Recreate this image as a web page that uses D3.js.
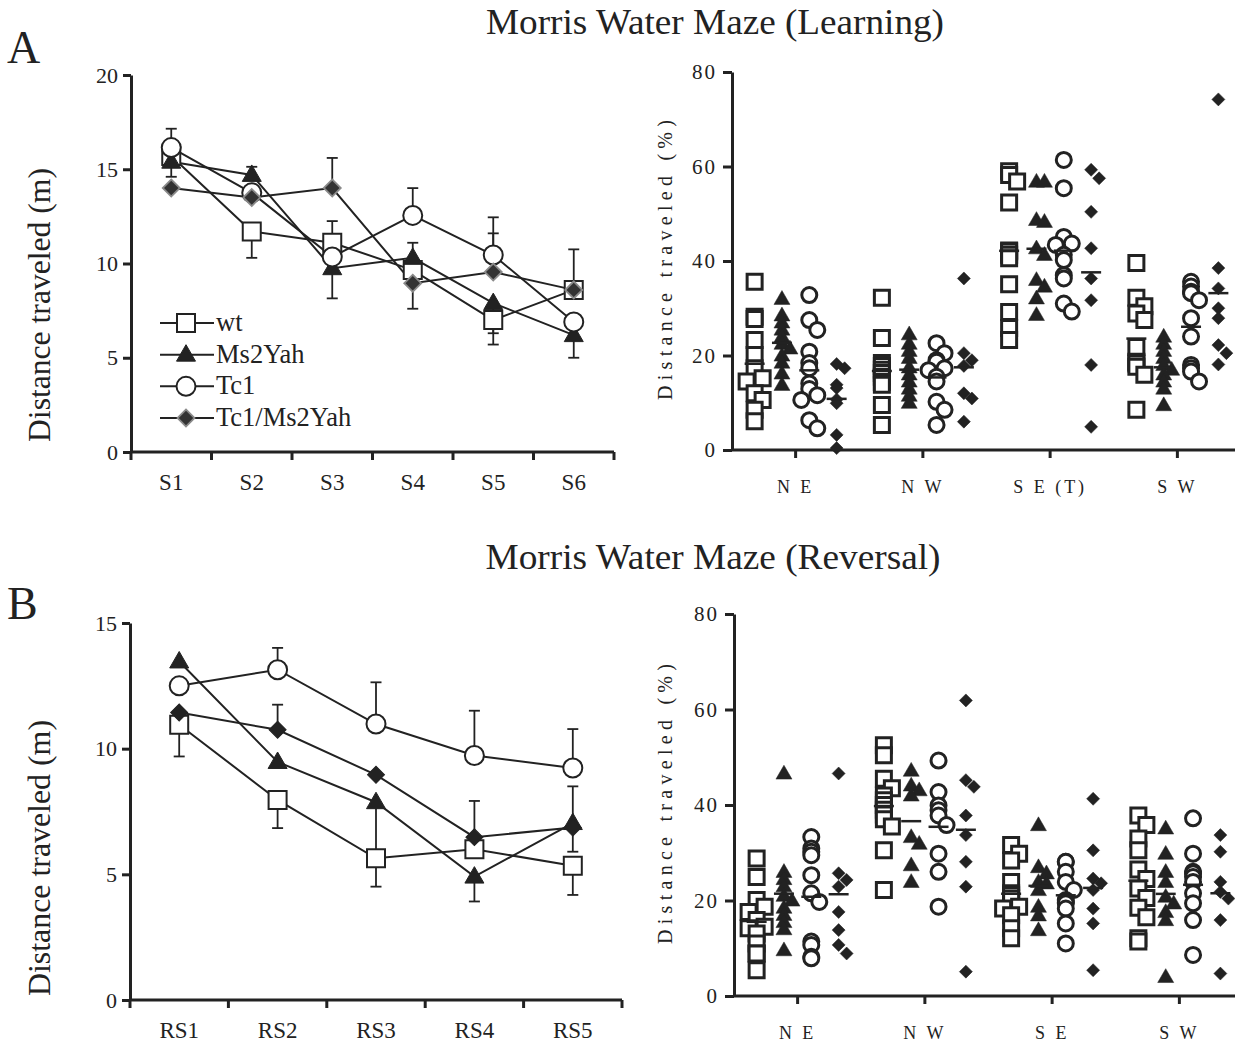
<!DOCTYPE html>
<html><head><meta charset="utf-8">
<script src="https://cdn.jsdelivr.net/npm/d3@7"></script>
<style>
body{margin:0;background:#fff}
text{font-family:"Liberation Serif","Times New Roman",serif;fill:#222}
</style>
</head><body>
<svg id="c" width="1235" height="1044"></svg>
<script>
// ---------------- DATA ----------------
const seriesNames = ["wt","Ms2Yah","Tc1","Tc1/Ms2Yah"];

// Learning (panel A, left)
const sessionsA = ["S1","S2","S3","S4","S5","S6"];
const learnWt  = [15.7, 11.7, 11.1, 9.65, 7.0, 8.6];
const learnMs2 = [15.4, 14.7, 9.75, 10.3, 7.9, 6.2];
const learnTc1 = [16.15, 13.75, 10.35, 12.55, 10.45, 6.9];
const learnDbl = [14.0, 13.5, 14.0, 8.95, 9.55, 8.6];
// signed SEM: + drawn upward, - drawn downward, null = not shown
const learnWtErr  = [null, -1.4, 1.15, null, -1.3, 2.15];
const learnMs2Err = [-0.8, 0.43, -1.6, 0.8, -1.6, -1.2];
const learnTc1Err = [1.0, null, null, 1.45, 2.0, null];
const learnDblErr = [null, null, 1.6, -1.35, 2.05, null];
const ticksA = [0,5,10,15,20];

// Reversal (panel B, left)
const sessionsB = ["RS1","RS2","RS3","RS4","RS5"];
const revWt  = [10.95, 7.96, 5.64, 6.0, 5.34];
const revMs2 = [13.47, 9.47, 7.87, 4.91, 7.04];
const revTc1 = [12.5, 13.14, 10.98, 9.73, 9.23];
const revDbl = [11.44, 10.75, 8.96, 6.48, 6.86];
const revWtErr  = [-1.26, -1.12, -1.13, null, -1.16];
const revMs2Err = [null, null, -2.2, -0.99, -1.14];
const revTc1Err = [null, 0.87, 1.66, 1.78, 1.55];
const revDblErr = [null, 1.0, null, 1.44, 1.64];
const ticksB = [0,5,10,15];

// Quadrant distance (%), panels right
const quadA = ["N E","N W","S E (T)","S W"];
const quadB = ["N E","N W","S E","S W"];
const ticksPct = [0,20,40,60,80];

const learnPctWt = [
  [35.6,28.2,27.7,23.3,20.1,17.3,15.2,14.5,12.0,10.6,8.5,6.1],
  [32.2,23.7,18.4,17.8,17.0,16.3,15.5,14.4,13.8,9.5,5.3],
  [59,58.2,56.8,52.4,42.2,42.0,41.3,40.6,35.1,29.2,25.8,23.3],
  [39.6,32.2,30.4,28.9,27.5,21.8,18.7,18.3,17.6,15.9,8.5]];
const learnPctMs2 = [
  [32,28.5,27,25.5,24,22.5,21.5,20,18.5,16.2,13.8],
  [24.5,22.5,21,19.5,17.5,16,14.5,13,11.5,10],
  [56.8,56.8,48.7,48.3,42.7,41.3,36.0,34.6,32.1,28.6],
  [24,22.5,21,19.5,18,17,16,14.5,13,9.5]];
const learnPctTc1 = [
  [32.8,27.5,25.4,20.8,18.4,17.3,14.1,12.9,11.6,10.6,6.3,4.6],
  [22.6,20.5,19,18.7,17.3,16.9,15.5,14.5,10.2,8.5,5.3],
  [61.4,55.4,45.1,43.7,43.4,41.3,40.2,37.0,36.3,31.0,29.3],
  [35.6,34.6,33.5,33.2,31.7,27.9,24.0,18.0,17.3,16.6,14.5]];
const learnPctDbl = [
  [18.2,17.3,13.8,13.1,10.7,9.9,3.2,0.4],
  [36.3,20.5,19.0,17.8,12.0,10.9,6.0],
  [59.3,57.5,50.4,42.7,36.3,31.7,18.0,4.9],
  [74.2,38.5,34.2,30.0,27.9,22.2,20.5,18.1]];

const revPctWt = [
  [28.8,24.9,20.1,18.7,17.6,15.9,14.5,14.2,13.1,11.0,8.9,8.9,5.4],
  [52.5,50.4,45.5,43.5,42,41,40,39,38,37,35.5,30.5,22.2],
  [31.6,29.8,28.4,23.9,21.5,21.1,20.4,18.7,18.3,16.9,14.2,12.1],
  [37.8,35.8,33.0,30.5,26.5,24.5,22.5,20.5,18.5,16.5,12.1,11.4]];
const revPctMs2 = [
  [46.6,26,24.5,23,21,20,18.5,17,15.5,14,9.6],
  [47.2,44.1,43.1,42,33.3,31.9,27.4,23.9],
  [35.8,27.0,25.7,23.9,23.6,22.2,18.7,16.9,13.8],
  [35.1,29.8,26.0,23.9,20.8,19.4,17.6,15.9,4.0]];
const revPctTc1 = [
  [33.3,30.9,30.2,29.5,25.3,21.5,19.7,11.4,10.7,8.2,7.9],
  [49.3,42.7,39.9,38.9,37.8,35.8,29.8,26.0,18.7],
  [28.1,28.1,26.0,23.9,22.2,20.1,19.7,19.4,18.3,15.2,11.0],
  [37.2,29.8,26.0,25.7,24.9,23.9,21.5,19.4,15.9,8.6]];
const revPctDbl = [
  [46.6,25.7,24.3,22.9,17.6,13.8,10.7,8.9],
  [61.9,45.2,43.8,37.8,33.7,28.1,22.9,5.1],
  [41.3,30.5,24.6,23.6,22.2,18.3,15.2,5.4],
  [33.7,30.2,23.9,21.8,20.4,15.9,4.7]];

// ---------------- DRAWING ----------------
const svg = d3.select("#c");
const INK = "#222";

function symPath(kind, s) {
  if (kind === "square") return d3.symbol(d3.symbolSquare, s*s)();
  if (kind === "circle") return d3.symbol(d3.symbolCircle, Math.PI*s*s/4)();
  if (kind === "triangle") return d3.symbol(d3.symbolTriangle, Math.sqrt(3)/4*s*s)();
  if (kind === "diamond") return d3.symbol(d3.symbolSquare, s*s/2)();
}
function drawMarker(g, kind, x, y, style) {
  const p = g.append("path").attr("d", symPath(kind, style.size))
    .attr("fill", style.fill).attr("stroke", style.stroke).attr("stroke-width", style.sw);
  if (kind === "diamond") p.attr("transform", `translate(${x},${y}) rotate(45)`);
  else if (kind === "triangle") p.attr("transform", `translate(${x},${y+1})`);
  else p.attr("transform", `translate(${x},${y})`);
  return p;
}

function styleAxis(a, fs) {
  a.selectAll("path.domain").attr("stroke", INK).attr("stroke-width", 3);
  a.selectAll(".tick line").attr("stroke", INK).attr("stroke-width", 3);
  a.selectAll(".tick text").attr("fill", INK).style("font-family", '"Liberation Serif",serif').style("font-size", fs+"px");
}

// titles
svg.append("text").attr("x", 715).attr("y", 34).attr("text-anchor","middle").style("font-size","35px")
  .attr("textLength", 458).attr("lengthAdjust", "spacingAndGlyphs").text("Morris Water Maze (Learning)");
svg.append("text").attr("x", 713).attr("y", 569).attr("text-anchor","middle").style("font-size","35px")
  .attr("textLength", 455).attr("lengthAdjust", "spacingAndGlyphs").text("Morris Water Maze (Reversal)");
svg.append("text").attr("x", 7).attr("y", 63).style("font-size","46px").text("A");
svg.append("text").attr("x", 7).attr("y", 619).style("font-size","46px").text("B");

function lineChart(cfg) {
  const g = svg.append("g");
  const x = d3.scaleBand().domain(cfg.sessions).range([cfg.x0, cfg.x1]);
  const y = d3.scaleLinear().domain([0, cfg.ymax]).range([cfg.y0, cfg.y1]);
  const cx = d => x(d) + x.bandwidth()/2;

  const ya = g.append("g").attr("transform", `translate(${cfg.x0},0)`)
    .call(d3.axisLeft(y).tickValues(cfg.ticks).tickSize(8).tickSizeOuter(0).tickPadding(5));
  styleAxis(ya, 22);
  const xa = g.append("g").attr("transform", `translate(0,${cfg.y0})`)
    .call(d3.axisBottom(x).tickSize(0).tickSizeOuter(0).tickPadding(22));
  styleAxis(xa, 23);
  xa.select("path.domain").attr("d", `M${cfg.x0},0H${cfg.x1}`);
  // boundary ticks
  const bounds = cfg.sessions.map(d => x(d)).concat([cfg.x1]);
  g.selectAll(".bt").data(bounds).join("line")
    .attr("x1", d => d).attr("x2", d => d).attr("y1", cfg.y0).attr("y2", cfg.y0 + 8)
    .attr("stroke", INK).attr("stroke-width", 3);

  g.append("text").attr("transform", `translate(${cfg.titleX},${cfg.titleY}) rotate(-90)`)
    .attr("text-anchor","middle").style("font-size","31px")
    .attr("textLength", cfg.titleLen).attr("lengthAdjust", "spacingAndGlyphs")
    .text("Distance traveled (m)");

  const line = d3.line().x((d,i) => cx(cfg.sessions[i])).y(d => y(d));
  cfg.series.forEach(s => {
    g.append("path").attr("d", line(s.values)).attr("fill","none").attr("stroke", INK).attr("stroke-width", 2);
  });
  cfg.series.forEach(s => {
    s.err.forEach((e, i) => {
      if (e == null) return;
      const xc = cx(cfg.sessions[i]);
      const ya0 = y(s.values[i]), ya1 = y(s.values[i] + e);
      g.append("line").attr("x1", xc).attr("x2", xc).attr("y1", ya0).attr("y2", ya1).attr("stroke", INK).attr("stroke-width", 1.8);
      g.append("line").attr("x1", xc-5.5).attr("x2", xc+5.5).attr("y1", ya1).attr("y2", ya1).attr("stroke", INK).attr("stroke-width", 1.8);
    });
  });
  cfg.series.forEach(s => {
    s.values.forEach((v, i) => drawMarker(g, s.kind, cx(cfg.sessions[i]), y(v), s.style));
  });
  return {g, x, y};
}

const lineStyles = {
  square:   {size: 18, fill: "#fff", stroke: INK, sw: 2},
  triangle: {size: 19, fill: INK, stroke: INK, sw: 1},
  circle:   {size: 19, fill: "#fff", stroke: INK, sw: 2},
  diamondA: {size: 17, fill: "#333", stroke: "#8a8a8a", sw: 1.8},
  diamondB: {size: 17, fill: INK, stroke: INK, sw: 1}
};

const A = lineChart({
  sessions: sessionsA, x0: 131, x1: 614, y0: 452, y1: 75, ymax: 20, ticks: ticksA,
  titleX: 50, titleY: 305, titleLen: 274,
  series: [
    {values: learnWt, err: learnWtErr, kind: "square", style: lineStyles.square},
    {values: learnMs2, err: learnMs2Err, kind: "triangle", style: lineStyles.triangle},
    {values: learnTc1, err: learnTc1Err, kind: "circle", style: lineStyles.circle},
    {values: learnDbl, err: learnDblErr, kind: "diamond", style: lineStyles.diamondA}
  ]
});

// legend
const legKinds = [["square", lineStyles.square],["triangle", lineStyles.triangle],["circle", lineStyles.circle],["diamond", lineStyles.diamondA]];
const legY = d3.scalePoint().domain(seriesNames).range([323, 418]);
seriesNames.forEach((n, i) => {
  const yy = legY(n);
  A.g.append("line").attr("x1", 160).attr("x2", 214).attr("y1", yy).attr("y2", yy).attr("stroke", INK).attr("stroke-width", 2);
  drawMarker(A.g, legKinds[i][0], 186, yy, legKinds[i][1]);
  A.g.append("text").attr("x", 216).attr("y", yy + 8).style("font-size","26.5px").text(n);
});

lineChart({
  sessions: sessionsB, x0: 130, x1: 622, y0: 1000, y1: 623, ymax: 15, ticks: ticksB,
  titleX: 50, titleY: 858, titleLen: 276,
  series: [
    {values: revWt, err: revWtErr, kind: "square", style: lineStyles.square},
    {values: revMs2, err: revMs2Err, kind: "triangle", style: lineStyles.triangle},
    {values: revTc1, err: revTc1Err, kind: "circle", style: lineStyles.circle},
    {values: revDbl, err: revDblErr, kind: "diamond", style: lineStyles.diamondB}
  ]
});

// ---------- scatter panels ----------
const scStyles = [
  {kind: "square", minD: 10, style: {size: 15, fill: "#fff", stroke: INK, sw: 3}},
  {kind: "triangle", minD: 7, style: {size: 16, fill: INK, stroke: INK, sw: 0.5}},
  {kind: "circle", minD: 10, style: {size: 15, fill: "#fff", stroke: INK, sw: 3}},
  {kind: "diamond", minD: 9, style: {size: 13, fill: INK, stroke: INK, sw: 0.5}}
];

function swarm(values, cx, y, step, minD, maxOff) {
  const pts = values.map(v => ({v, y: y(v), x: cx}));
  const placed = [];
  pts.slice().sort((a,b) => a.y - b.y).forEach(p => {
    let best = null;
    for (let k = 0; k < 12; k++) {
      const off = k === 0 ? 0 : (k % 2 ? 1 : -1) * Math.ceil(k/2) * step;
      if (Math.abs(off) > maxOff) break;
      const xx = cx + off;
      if (placed.every(q => Math.hypot(q.x - xx, q.y - p.y) >= minD)) { best = xx; break; }
    }
    p.x = best == null ? cx : best;
    placed.push(p);
  });
  return pts;
}

function scatterChart(cfg) {
  const g = svg.append("g");
  const x = d3.scaleBand().domain(cfg.cats).range([cfg.x0, cfg.x1]);
  const sub = d3.scalePoint().domain(seriesNames).range([-41, 41]);
  const y = d3.scaleLinear().domain([0, 80]).range([cfg.y0, cfg.y1]);

  const ya = g.append("g").attr("transform", `translate(${cfg.x0},0)`)
    .call(d3.axisLeft(y).tickValues(ticksPct).tickSize(9).tickSizeOuter(0).tickPadding(6));
  styleAxis(ya, 21);
  ya.selectAll(".tick text").style("letter-spacing", "2px");
  const xa = g.append("g").attr("transform", `translate(0,${cfg.y0})`)
    .call(d3.axisBottom(x).tickSize(8).tickSizeOuter(0).tickPadding(22));
  styleAxis(xa, 18);
  xa.selectAll(".tick text").style("letter-spacing", "3px");
  xa.select("path.domain").attr("d", `M${cfg.x0},0H${cfg.x1}`);

  g.append("text").attr("transform", `translate(${cfg.titleX},${cfg.titleY}) rotate(-90)`)
    .attr("text-anchor","middle").style("font-size","20px")
    .attr("textLength", 280).attr("lengthAdjust", "spacing")
    .text("Distance traveled (%)");

  cfg.groups.forEach((grp, gi) => {
    const st = scStyles[gi];
    cfg.cats.forEach((c, ci) => {
      const cx = x(c) + x.bandwidth()/2 + sub(seriesNames[gi]);
      const pts = swarm(grp[ci], cx, y, 8, st.minD, 14);
      pts.forEach(p => drawMarker(g, st.kind, p.x, p.y, st.style));
      const m = y(d3.mean(grp[ci]));
      g.append("line").attr("x1", cx - 10).attr("x2", cx + 10).attr("y1", m).attr("y2", m)
        .attr("stroke", INK).attr("stroke-width", 2.5);
    });
  });
}

scatterChart({cats: quadA, x0: 732, x1: 1241, y0: 450, y1: 72, titleX: 672, titleY: 260,
  groups: [learnPctWt, learnPctMs2, learnPctTc1, learnPctDbl]});
scatterChart({cats: quadB, x0: 734, x1: 1243, y0: 996, y1: 614, titleX: 672, titleY: 804,
  groups: [revPctWt, revPctMs2, revPctTc1, revPctDbl]});
</script>
</body></html>
